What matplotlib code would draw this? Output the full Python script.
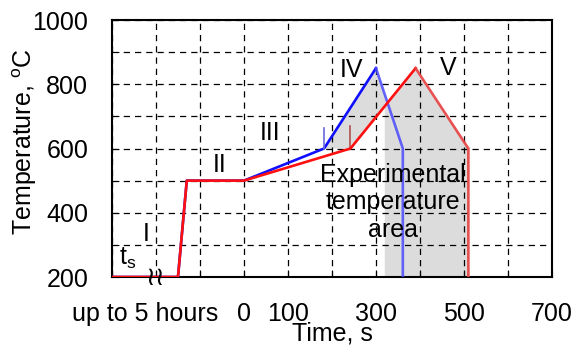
import numpy as np
import matplotlib.pyplot as plt
from matplotlib.ticker import MultipleLocator

plt.rcParams['font.family'] = ['Liberation Sans', 'DejaVu Sans']

# ===== DATOS =====
# tiempo (s); valores negativos = tramo "up to 5 hours" comprimido
blue_t = [-300, -150, -130, 0, 182, 300]
blue_T = [200, 200, 500, 500, 600, 850]
blue_down_t = [300, 361, 361]
blue_down_T = [850, 600, 200]

red_t = [-300, -150, -130, 0, 242, 390]
red_T = [200, 200, 500, 500, 600, 850]
red_down_t = [390, 510, 510]
red_down_T = [850, 600, 200]

# zona gris: área de temperatura experimental
area_t = [182, 300, 326, 390, 510, 510, 320, 320, 242]
area_T = [600, 850, 742, 850, 600, 200, 200, 732, 600]

stage_labels = ['I', 'II', 'III', 'IV', 'V']
stage_t = [-222, -55, 59, 245, 464]
stage_T = [334, 549, 648, 844, 850]

xtick_pos = [-300, -200, -100, 0, 100, 200, 300, 400, 500, 600, 700]
xtick_lab = ['', '', '', '0', '100', '', '300', '', '500', '', '700']

FS = 18

fig = plt.figure(figsize=(5.76, 3.56), dpi=100)
ax = fig.add_axes([0.1944, 0.2219, 0.7639, 0.7219])

ax.fill(area_t, area_T, color='#dcdcdc', zorder=0, lw=0)

ax.plot(blue_t, blue_T, color='#1010ff', lw=1.9, zorder=3)
ax.plot(blue_down_t, blue_down_T, color='#4a4aff', lw=1.9, alpha=0.85, zorder=3)
ax.plot(red_t, red_T, color='#ff1010', lw=1.9, zorder=4)
ax.plot(red_down_t, red_down_T, color='#e84040', lw=1.9, alpha=0.9, zorder=4)

# marcas verticales al inicio del tramo IV
ax.plot([182, 182], [600, 665], color='#6a6ae0', lw=1.2, zorder=3)
ax.plot([242, 242], [600, 670], color='#b05050', lw=1.2, zorder=3)

for lab, t, T in zip(stage_labels, stage_t, stage_T):
    ax.text(t, T, lab, fontsize=FS, ha='center', va='center', zorder=5)

ax.text(-264, 258, r'$\mathregular{t_s}$', fontsize=FS, ha='center',
        va='center', zorder=5)
ax.text(-201, 196, '≀≀', fontsize=19, ha='center', va='center',
        family='DejaVu Sans', clip_on=False, zorder=6)

ax.text(339, 432, 'Experimental\ntemperature\narea', fontsize=FS,
        ha='center', va='center', linespacing=1.2, zorder=5)

ax.set_xlim(-300, 700)
ax.set_ylim(200, 1000)
ax.set_xticks(xtick_pos, labels=xtick_lab)
ax.set_xticks([-225], labels=['up to 5 hours'], minor=True)
ax.yaxis.set_major_locator(MultipleLocator(200))
ax.yaxis.set_minor_locator(MultipleLocator(100))
ax.tick_params(axis='both', which='both', direction='in', labelsize=FS)
ax.tick_params(axis='x', which='minor', length=0, pad=18)
ax.tick_params(axis='x', which='major', length=5, pad=18)
ax.tick_params(axis='y', which='both', length=5, pad=17)

ax.grid(True, which='major', axis='x', color='black', ls=(0, (5, 4)), lw=0.9)
ax.grid(True, which='both', axis='y', color='black', ls=(0, (5, 4)), lw=0.9)
ax.set_axisbelow(True)
for s in ax.spines.values():
    s.set_linewidth(1.5)

ax.set_xlabel('Time, s', fontsize=FS, labelpad=-3)
ax.set_ylabel(r'Temperature, $\mathregular{^{o}}$C', fontsize=FS)
ax.yaxis.set_label_coords(-0.165, 0.525)

fig.savefig('out.png', dpi=100)
